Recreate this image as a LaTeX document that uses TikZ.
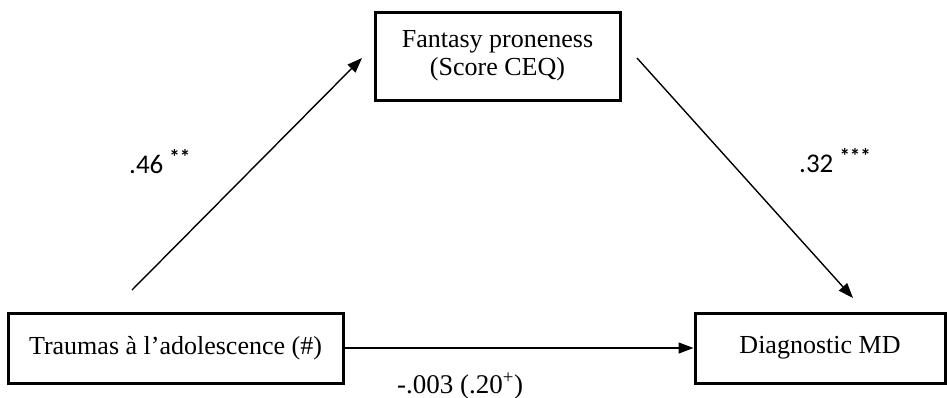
\documentclass[tikz,border=0pt]{standalone}
\usepackage{fontspec}
\setmainfont{Liberation Serif}
\newfontfamily\calib{Carlito}
\usetikzlibrary{arrows.meta}
\tikzset{
  boxnode/.style={draw, line width=3pt, inner sep=0pt, align=center,
    font=\fontsize{26}{29}\selectfont},
  linkarrow/.style={line width=1.4pt, -{Triangle[length=15pt,width=11pt]}},
  coeflabel/.style={inner sep=0pt, anchor=base west, font=\calib\fontsize{27}{30}\selectfont},
  serlabel/.style={inner sep=0pt, anchor=base west, font=\fontsize{27}{30}\selectfont}
}
\begin{document}
\begin{tikzpicture}[x=1pt,y=-1pt]
\useasboundingbox (0,0) rectangle (947,397);
\node[boxnode, minimum width=245pt, minimum height=88pt] (fp) at (497.5,56)
  {\raisebox{-3pt}{\begin{tabular}{@{}c@{}}Fantasy proneness\\[-1pt](Score CEQ)\end{tabular}}};
\node[boxnode, minimum width=335pt, minimum height=70pt] (tr) at (175.5,348)
  {Traumas à l’adolescence (\#)};
\node[boxnode, minimum width=250pt, minimum height=70pt] (md) at (820,348)
  {Diagnostic MD};
\coordinate (a1s) at (132,290);
\coordinate (a1e) at (362,58);
\coordinate (a2s) at (637,58);
\coordinate (a2e) at (853,298);
\draw[linkarrow] (a1s) -- (a1e);
\draw[linkarrow] (a2s) -- (a2e);
\draw[linkarrow] (tr.east) -- (md.west);
\node[coeflabel] (l1) at (129,173) {.46 \raisebox{0.3em}{\fontsize{21}{21}\selectfont\bfseries **}};
\node[coeflabel] (l2) at (799,172) {.32 \raisebox{0.3em}{\fontsize{21}{21}\selectfont\bfseries ***}};
\node[serlabel] (l3) at (397,393) {-.003 (.20\textsuperscript{+})};
\end{tikzpicture}
\end{document}
